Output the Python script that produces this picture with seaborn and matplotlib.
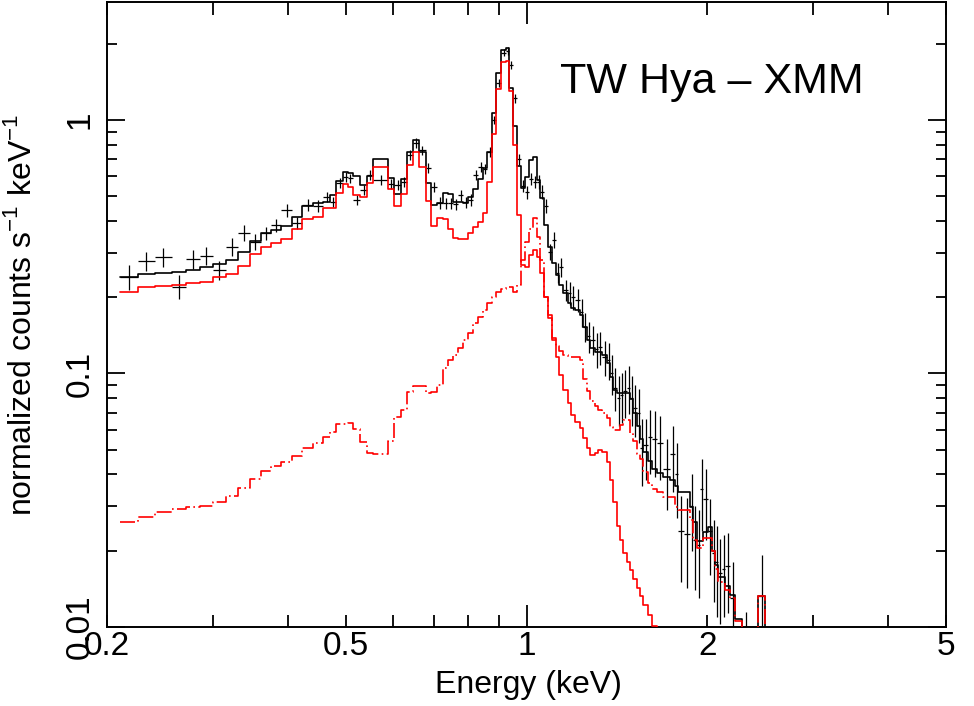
import numpy as np
import pandas as pd
import seaborn as sns
import matplotlib.pyplot as plt

# bin edges of the grouped spectrum (keV)
ENERGY_EDGES = [
    0.210, 0.225, 0.240, 0.257, 0.271, 0.286, 0.300, 0.316, 0.331, 0.346,
    0.361, 0.375, 0.390, 0.407, 0.423, 0.441, 0.458, 0.471, 0.482, 0.495,
    0.504, 0.514, 0.528, 0.543, 0.555, 0.588, 0.602, 0.618, 0.632, 0.647,
    0.662, 0.680, 0.693, 0.710, 0.726, 0.740, 0.755, 0.769, 0.784, 0.799,
    0.815, 0.831, 0.847, 0.860, 0.876, 0.890, 0.907, 0.925, 0.936, 0.950,
    0.965, 0.980, 0.995, 1.010, 1.026, 1.042, 1.054, 1.070, 1.087, 1.103,
    1.120, 1.133, 1.151, 1.173, 1.187, 1.205, 1.229, 1.243, 1.262, 1.277,
    1.301, 1.316, 1.337, 1.363, 1.379, 1.395, 1.416, 1.433, 1.449, 1.472,
    1.489, 1.506, 1.529, 1.547, 1.565, 1.595, 1.620, 1.651, 1.690, 1.736,
    1.769, 1.790, 1.831, 1.874, 1.896, 1.925, 1.947, 1.970, 2.008, 2.039,
    2.063, 2.087, 2.119, 2.144, 2.185, 2.228, 2.288, 2.360, 2.432, 2.499,
    2.567,
]

# total model (black histogram)
MODEL_TOTAL = [
    0.240, 0.247, 0.249, 0.252, 0.256, 0.263, 0.270, 0.280, 0.302, 0.333,
    0.358, 0.368, 0.382, 0.414, 0.458, 0.471, 0.475, 0.506, 0.574, 0.624,
    0.618, 0.601, 0.554, 0.601, 0.702, 0.590, 0.511, 0.585, 0.748, 0.834,
    0.748, 0.564, 0.462, 0.471, 0.515, 0.511, 0.475, 0.475, 0.471, 0.497,
    0.535, 0.585, 0.647, 0.748, 1.066, 1.532, 1.888, 1.923, 1.337, 0.950,
    0.660, 0.540, 0.596, 0.695, 0.714, 0.580, 0.492, 0.385, 0.316, 0.273,
    0.245, 0.224, 0.208, 0.190, 0.181, 0.178, 0.170, 0.153, 0.136, 0.126,
    0.122, 0.122, 0.118, 0.110, 0.097, 0.086, 0.084, 0.084, 0.084, 0.084,
    0.079, 0.070, 0.062, 0.055, 0.049, 0.045, 0.042, 0.0405, 0.0391, 0.038,
    0.036, 0.034, 0.034, 0.0298, 0.026, 0.0218, 0.0218, 0.0237, 0.0248, 0.020,
    0.0176, 0.0157, 0.0157, 0.0145, 0.0134, 0.0108, 0.005, 0.005, 0.0132, 0.005,
]

# cool component (red solid)
MODEL_COOL = [
    0.210, 0.220, 0.222, 0.224, 0.228, 0.230, 0.240, 0.247, 0.266, 0.296,
    0.316, 0.327, 0.339, 0.372, 0.407, 0.414, 0.450, 0.450, 0.515, 0.559,
    0.544, 0.506, 0.497, 0.564, 0.653, 0.534, 0.458, 0.511, 0.665, 0.748,
    0.653, 0.479, 0.382, 0.411, 0.407, 0.372, 0.342, 0.339, 0.339, 0.358,
    0.378, 0.396, 0.430, 0.569, 0.881, 1.325, 1.693, 1.709, 1.300, 0.797,
    0.422, 0.268, 0.263, 0.293, 0.307, 0.288, 0.249, 0.200, 0.166, 0.138,
    0.116, 0.0987, 0.0862, 0.0765, 0.0686, 0.0645, 0.0610, 0.0557, 0.0509, 0.0478,
    0.0487, 0.0500, 0.0490, 0.0446, 0.0380, 0.0310, 0.0250, 0.0220, 0.0195, 0.0180,
    0.0168, 0.0155, 0.0143, 0.0132, 0.0122, 0.0112, 0.0101, 0.0085, np.nan, np.nan,
    np.nan, np.nan, np.nan, np.nan, np.nan, np.nan, np.nan, np.nan, np.nan, np.nan,
    np.nan, np.nan, np.nan, np.nan, np.nan, np.nan, np.nan, np.nan, np.nan, np.nan,
]

# hot component (red dashed)
MODEL_HOT = [
    0.0260, 0.0272, 0.0284, 0.0292, 0.0297, 0.0300, 0.0311, 0.0329, 0.0353, 0.0384,
    0.0412, 0.0432, 0.0448, 0.0473, 0.0509, 0.0532, 0.0562, 0.0588, 0.0632, 0.0632,
    0.0638, 0.0604, 0.0537, 0.0486, 0.0480, 0.0542, 0.0673, 0.0718, 0.0845, 0.0893,
    0.0889, 0.0838, 0.0845, 0.0902, 0.105, 0.113, 0.118, 0.126, 0.136, 0.144,
    0.158, 0.167, 0.178, 0.190, 0.200, 0.210, 0.215, 0.220, 0.220, 0.210,
    0.224, 0.280, 0.330, 0.370, 0.410, 0.345, 0.280, 0.200, 0.170, 0.135,
    0.128, 0.123, 0.118, 0.116, 0.116, 0.116, 0.113, 0.095, 0.085, 0.078,
    0.0744, 0.0720, 0.0700, 0.0667, 0.0615, 0.0597, 0.0597, 0.0627, 0.0657, 0.0657,
    0.0580, 0.0540, 0.0480, 0.0460, 0.0410, 0.0370, 0.0350, 0.0340, 0.0327, 0.0327,
    0.0298, 0.029, 0.029, 0.0264, 0.022, 0.0205, 0.0205, 0.0225, 0.0225, 0.020,
    0.0169, 0.015, 0.015, 0.014, 0.013, 0.0106, 0.005, 0.005, 0.0132, 0.005,
]

# observed rates and 1-sigma errors
DATA_RATE = [
    0.240, 0.277, 0.288, 0.220, 0.283, 0.291, 0.256, 0.316, 0.358, 0.330,
    0.358, 0.385, 0.441, 0.392, 0.462, 0.458, 0.497, 0.475, 0.564, 0.596,
    0.590, 0.484, 0.530, 0.607, 0.580, 0.560, 0.554, 0.570, 0.728, 0.811,
    0.760, 0.647, 0.544, 0.471, 0.470, 0.470, 0.465, 0.506, 0.475, 0.484,
    0.607, 0.653, 0.640, 0.748, 1.000, 1.400, 1.840, 1.870, 1.650, 1.220,
    0.700, 0.550, 0.520, 0.585, 0.570, 0.570, 0.520, 0.458, 0.302, 0.336,
    0.250, 0.263, 0.213, 0.208, 0.200, 0.195, 0.175, 0.153, 0.140, 0.136,
    0.125, 0.127, 0.116, 0.113, 0.100, 0.088, 0.080, 0.082, 0.085, 0.088,
    0.080, 0.073, 0.070, 0.051, 0.052, 0.056, 0.055, 0.053, 0.042, 0.048,
    0.040, 0.024, 0.0233, 0.030, 0.022, 0.021, 0.035, 0.032, 0.024, 0.0195,
    0.018, 0.0163, 0.017, 0.0174, 0.013, np.nan, 0.008, np.nan, 0.0132, np.nan,
]
DATA_ERROR = [
    0.027, 0.024, 0.026, 0.024, 0.025, 0.024, 0.023, 0.026, 0.026, 0.024,
    0.022, 0.023, 0.027, 0.021, 0.025, 0.025, 0.022, 0.022, 0.025, 0.025,
    0.025, 0.022, 0.024, 0.026, 0.024, 0.025, 0.025, 0.026, 0.030, 0.035,
    0.032, 0.028, 0.025, 0.024, 0.024, 0.024, 0.024, 0.025, 0.024, 0.025,
    0.028, 0.030, 0.030, 0.033, 0.040, 0.050, 0.060, 0.065, 0.060, 0.050,
    0.035, 0.030, 0.030, 0.032, 0.032, 0.035, 0.032, 0.030, 0.022, 0.024,
    0.022, 0.022, 0.020, 0.022, 0.022, 0.020, 0.022, 0.020, 0.020, 0.018,
    0.020, 0.019, 0.018, 0.019, 0.018, 0.017, 0.018, 0.018, 0.018, 0.019,
    0.018, 0.017, 0.017, 0.015, 0.014, 0.016, 0.016, 0.015, 0.013, 0.014,
    0.013, 0.009, 0.009, 0.010, 0.008, 0.008, 0.011, 0.010, 0.008, 0.007,
    0.007, 0.006, 0.006, 0.006, 0.005, np.nan, 0.0035, np.nan, 0.006, np.nan,
]

X_MINOR_TICKS = [0.2, 0.3, 0.4, 0.5, 0.6, 0.7, 0.8, 0.9, 2, 3, 4, 5]
X_MINOR_LABELS = ["0.2", "", "", "0.5", "", "", "", "", "2", "", "", "5"]
Y_MAJOR_TICKS = [0.01, 0.1, 1]
Y_MAJOR_LABELS = ["0.01", "0.1", "1"]
Y_MINOR_TICKS = [0.02, 0.03, 0.04, 0.05, 0.06, 0.07, 0.08, 0.09,
                 0.2, 0.3, 0.4, 0.5, 0.6, 0.7, 0.8, 0.9, 2]


def build_model_frame() -> pd.DataFrame:
    frames = []
    for name, values in (("total", MODEL_TOTAL), ("cool", MODEL_COOL), ("hot", MODEL_HOT)):
        # step histogram: repeat the last value at the closing edge
        rates = list(values) + [values[-1]]
        frames.append(pd.DataFrame({"energy": ENERGY_EDGES, "rate": rates, "component": name}))
    return pd.concat(frames, ignore_index=True)


sns.set_theme(style="ticks")
plt.rcParams["font.family"] = ["Liberation Sans", "DejaVu Sans"]
plt.rcParams["mathtext.fontset"] = "custom"
plt.rcParams["mathtext.rm"] = "Liberation Sans"
plt.rcParams["text.color"] = "black"
plt.rcParams["axes.labelcolor"] = "black"
plt.rcParams["xtick.color"] = "black"
plt.rcParams["ytick.color"] = "black"

figure = plt.figure(figsize=(9.74, 7.06), dpi=100)
axes = figure.add_axes([107 / 974, 79 / 706, 839 / 974, 625 / 706])

edges = np.array(ENERGY_EDGES)
centers = np.sqrt(edges[:-1] * edges[1:])
axes.errorbar(
    centers, DATA_RATE,
    xerr=[centers - edges[:-1], edges[1:] - centers],
    yerr=DATA_ERROR,
    fmt="none", ecolor="black", elinewidth=0.9, capsize=0, zorder=2,
)

model_frame = build_model_frame()
sns.lineplot(
    data=model_frame, x="energy", y="rate",
    hue="component", style="component",
    palette={"total": "black", "cool": "#ff0000", "hot": "#ff0000"},
    dashes={"total": "", "cool": "", "hot": (9.0, 2.0, 1.0, 2.0)},
    estimator=None, sort=False, legend=False,
    drawstyle="steps-post", linewidth=1.2, ax=axes, zorder=3,
)

axes.set_xscale("log")
axes.set_yscale("log")
axes.set_xlim(0.2, 5)
axes.set_ylim(0.01, 2.92)

axes.set_xticks([1], ["1"])
axes.set_xticks(X_MINOR_TICKS, X_MINOR_LABELS, minor=True)
axes.set_yticks(Y_MAJOR_TICKS, Y_MAJOR_LABELS)
axes.set_yticks(Y_MINOR_TICKS, [""] * len(Y_MINOR_TICKS), minor=True)

axes.tick_params(which="both", direction="in", top=True, right=True,
                 colors="black", labelcolor="black", labelsize=24, width=1.3)
axes.tick_params(axis="x", which="major", length=16, pad=3)
axes.tick_params(axis="x", which="minor", length=9, pad=3)
axes.tick_params(axis="y", which="major", length=13, pad=8, labelrotation=90)
axes.tick_params(axis="y", which="minor", length=7)
plt.setp(axes.get_yticklabels(), va="center")

for spine in axes.spines.values():
    spine.set_linewidth(1.4)
    spine.set_color("black")

axes.set_xlabel("Energy (keV)", fontsize=23, color="black")
axes.set_ylabel(r"normalized counts s$^{-1}$ keV$^{-1}$", fontsize=23, color="black")
axes.xaxis.set_label_coords(0.502, -0.068)
axes.yaxis.set_label_coords(-0.082, 0.5)

axes.text(0.540, 0.854, "TW Hya \u2013 XMM", transform=axes.transAxes,
          fontsize=31, ha="left", va="baseline", color="black")

figure.savefig("out.png", dpi=100)
